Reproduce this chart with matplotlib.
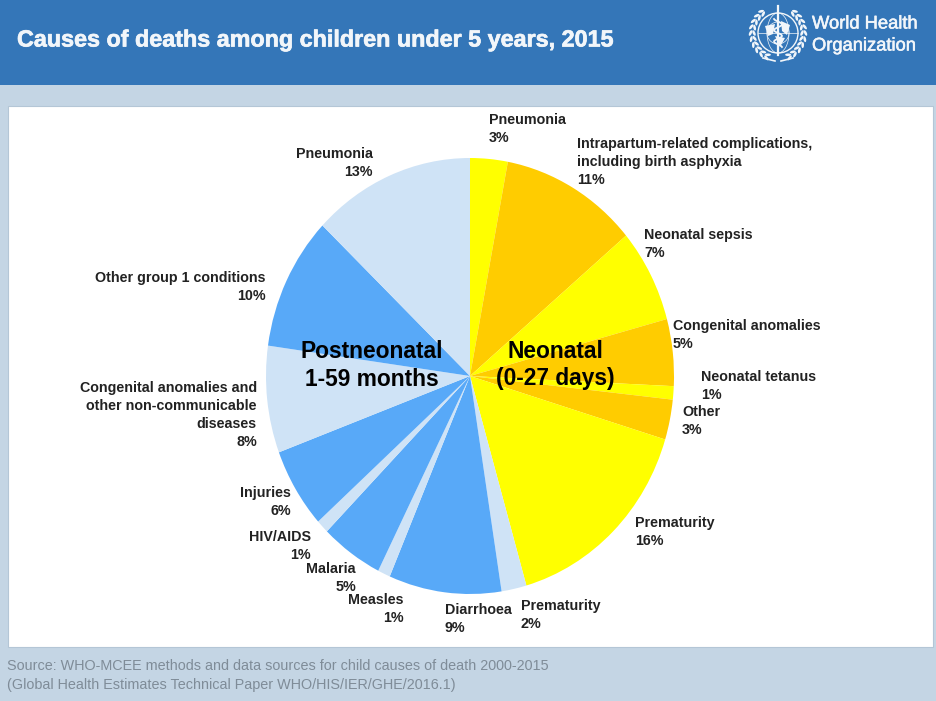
import matplotlib
matplotlib.use('Agg')
from matplotlib import pyplot as plt
from matplotlib import patheffects as pe
from matplotlib.patches import Circle, Ellipse, Rectangle, Polygon
import numpy as np

title = 'Causes of deaths among children under 5 years, 2015'
source_lines = ['Source: WHO-MCEE methods and data sources for child causes of death 2000-2015',
                '(Global Health Estimates Technical Paper WHO/HIS/IER/GHE/2016.1)']

causes = ['Pneumonia', 'Intrapartum-related complications,\nincluding birth asphyxia', 'Neonatal sepsis',
          'Congenital anomalies', 'Neonatal tetanus', 'Other', 'Prematurity',
          'Prematurity', 'Diarrhoea', 'Measles', 'Malaria', 'HIV/AIDS', 'Injuries',
          'Congenital anomalies and\nother non-communicable\ndiseases', 'Other group 1 conditions', 'Pneumonia']
shares = [3, 11, 7, 5, 1, 3, 16, 2, 9, 1, 5, 1, 6, 8, 10, 13]

YELLOW = '#FFFF00'
ORANGE = '#FFCC00'
LIGHT = '#CFE3F6'
BLUE = '#58A9F8'
slice_colors = [YELLOW, ORANGE, YELLOW, ORANGE, YELLOW, ORANGE, YELLOW,
                LIGHT, BLUE, LIGHT, BLUE, LIGHT, BLUE, LIGHT, BLUE, LIGHT]

# pixel anchor and alignment of each slice label
label_pos = [(489, 120, 'left'), (577, 144, 'left'), (644, 235, 'left'),
             (673, 326, 'left'), (701, 377, 'left'), (682, 412, 'left'), (635, 523, 'left'),
             (521, 606, 'left'), (445, 610, 'left'), (404, 600, 'right'), (356, 569, 'right'),
             (311, 537, 'right'), (291, 493, 'right'), (257, 388, 'right'), (266, 278, 'right'),
             (373, 154, 'right')]

W, H = 937, 701
LINE_H = 18
WHITE = '#F2F6FA'

fig = plt.figure(figsize=(W / 100, H / 100), dpi=100, facecolor='#C4D5E4')

# whole figure in pixel coordinates, y going down
bg = fig.add_axes([0, 0, 1, 1])
bg.set_xlim(0, W)
bg.set_ylim(H, 0)
bg.axis('off')
bg.add_patch(Rectangle((0, 0), W, 85, color='#3476B8', lw=0))
bg.add_patch(Rectangle((8, 106), 925, 541, fc='white', ec='#B4C6D6', lw=0.8))

bg.text(17, 40, title, color=WHITE, fontsize=16.8, fontweight='bold', family='Liberation Sans',
        va='center', ha='left',
        path_effects=[pe.withStroke(linewidth=0.5, foreground=WHITE)])

bg.text(7, 666, source_lines[0], color='#7F8C98', fontsize=10.4, family='Liberation Sans', va='center')
bg.text(7, 685, source_lines[1], color='#7F8C98', fontsize=10.4, family='Liberation Sans', va='center')

# WHO emblem: globe, staff with snake, laurel branches
ex, ey = 778, 33
bg.add_patch(Circle((ex, ey), 20, fc='none', ec=WHITE, lw=1.0))
bg.add_patch(Ellipse((ex, ey), 22, 40, fc='none', ec=WHITE, lw=0.5))
bg.add_patch(Circle((ex, ey), 11, fc='none', ec=WHITE, lw=0.5))
bg.plot([ex - 20, ex + 20], [ey, ey], color=WHITE, lw=0.5)
bg.add_patch(Polygon([(ex - 13, ey - 7), (ex - 3, ey - 9), (ex - 5, ey + 1), (ex - 10, ey + 3)], fc=WHITE, lw=0))
bg.add_patch(Polygon([(ex + 3, ey - 12), (ex + 12, ey - 8), (ex + 9, ey + 2), (ex + 4, ey - 2)], fc=WHITE, lw=0))
bg.add_patch(Polygon([(ex - 3, ey + 3), (ex + 7, ey + 5), (ex + 2, ey + 14)], fc=WHITE, lw=0))
bg.plot([ex, ex], [ey - 27, ey + 22], color=WHITE, lw=1.6)
snake_y = np.linspace(ey - 14, ey + 14, 40)
bg.plot(ex + 4 * np.sin((snake_y - ey) * 0.55), snake_y, color=WHITE, lw=1.3)
for side in (-1, 1):
    for deg in np.arange(-52, 72, 13):
        a = np.deg2rad(deg)
        for r, tilt in ((24, 25), (27.5, -25)):
            bg.add_patch(Ellipse((ex + side * r * np.cos(a), ey + r * np.sin(a)), 2.6, 6.0,
                                 angle=side * (deg + tilt), fc=WHITE, lw=0))
    bg.plot([ex + side * 3, ex + side * 15], [ey + 28, ey + 25], color=WHITE, lw=1.2)

for y, s in [(24, 'World Health'), (46, 'Organization')]:
    bg.text(812, y, s, color=WHITE, fontsize=13.2, family='Liberation Sans', va='center',
            path_effects=[pe.withStroke(linewidth=0.4, foreground=WHITE)])

# pie stretched a little taller than wide
cx, cy, rx, ry = 470, 376, 204, 218
pie_ax = fig.add_axes([(cx - rx) / W, 1 - (cy + ry) / H, 2 * rx / W, 2 * ry / H])
pie_ax.pie(shares, colors=slice_colors, startangle=90, counterclock=False, radius=1,
           wedgeprops={'linewidth': 0})
pie_ax.set_aspect('auto')
pie_ax.set_xlim(-1, 1)
pie_ax.set_ylim(-1, 1)
pie_ax.patch.set_visible(False)

# slice labels above the pie
top = fig.add_axes([0, 0, 1, 1])
top.set_xlim(0, W)
top.set_ylim(H, 0)
top.axis('off')
for cause, share, (x, y, ha) in zip(causes, shares, label_pos):
    lines = cause.split('\n') + ['%d%%' % share]
    for i, line in enumerate(lines):
        top.text(x, y + i * LINE_H, line, ha=ha, va='center', fontsize=10.3, fontweight='bold',
                 family='Liberation Sans', color='#222222')

for x, y, s in [(371.5, 351, 'Postneonatal'), (371.5, 379, '1-59 months'),
                (555.5, 351, 'Neonatal'), (555.5, 379, '(0-27 days)')]:
    top.text(x, y, s, ha='center', va='center', fontsize=16.4, fontweight='bold',
             family='Liberation Sans', color='black')

fig.savefig('out.png', dpi=100, facecolor=fig.get_facecolor())
